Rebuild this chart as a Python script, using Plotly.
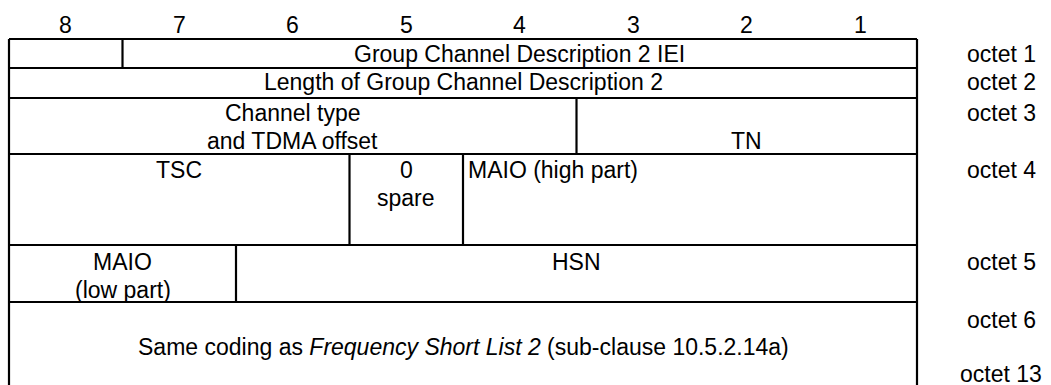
import plotly.graph_objects as go

# ---------------- data ----------------
bit_labels = ["8", "7", "6", "5", "4", "3", "2", "1"]

# octet label column, one list of lines per octet row
octet_labels = [
    ["octet 1"],
    ["octet 2"],
    ["octet 3"],
    ["octet 4"],
    ["octet 5"],
    ["octet 6", "", "octet 13"],
]

# fields: row index, high bit, low bit, text lines, horizontal alignment
field_rows = [0, 0, 1, 2, 2, 3, 3, 3, 4, 4, 5]
field_hi = [8, 7, 8, 8, 3, 8, 5, 4, 8, 6, 8]
field_lo = [8, 1, 1, 4, 1, 6, 5, 1, 7, 1, 1]
field_text = [
    [""],
    ["Group Channel Description 2 IEI"],
    ["Length of Group Channel Description 2"],
    ["Channel type", "and TDMA offset"],
    ["", "TN"],
    ["TSC"],
    ["0", "spare"],
    ["MAIO (high part)"],
    ["MAIO", "(low part)"],
    ["HSN"],
    ["", "Same coding as <i>Frequency Short List 2</i> (sub-clause 10.5.2.14a)"],
]
field_align = ["center", "center", "center", "center", "center", "center",
               "center", "left", "center", "center", "center"]

# ---------------- layout constants ----------------
W, H = 1051, 385
left_px = 9.0
col_px = 113.5
row_edges = [39, 68, 98, 154, 245, 302, 387]
row_pad = [14.5, 14.0, 15.0, 16.0, 16.5, 17.5]
row_gap = [28.0, 28.0, 28.0, 28.0, 28.0, 27.0]
header_y = 24.5
octet_x_px = 1001
FONT = dict(family="Liberation Sans, Arial, sans-serif", size=23, color="black")
LW = 2.2


def px_to_x(px):
    return (px - left_px) / col_px


fig = go.Figure()
fig.add_trace(go.Scatter(x=[0, 8], y=[row_edges[0], row_edges[-1]], mode="markers",
                         marker=dict(opacity=0), hoverinfo="skip", showlegend=False))

shapes = []
annotations = []


def hline(x0, x1, y):
    shapes.append(dict(type="line", xref="x", yref="y", x0=x0, x1=x1, y0=y, y1=y,
                       line=dict(color="black", width=LW)))


def vline(x, y0, y1):
    shapes.append(dict(type="line", xref="x", yref="y", x0=x, x1=x, y0=y0, y1=y1,
                       line=dict(color="black", width=LW)))


# outer box + row separators
for e in row_edges:
    hline(0, 8, e)
vline(0, row_edges[0], row_edges[-1])
vline(8, row_edges[0], row_edges[-1])

# header bit numbers
for i, b in enumerate(bit_labels):
    annotations.append(dict(x=i + 0.5, y=header_y, xref="x", yref="y", text=b,
                            showarrow=False, font=FONT, xanchor="center", yanchor="middle"))

# fields
for r, hi, lo, lines, al in zip(field_rows, field_hi, field_lo, field_text, field_align):
    x0 = 8 - hi
    x1 = 9 - lo
    top, bot = row_edges[r], row_edges[r + 1]
    if x0 > 0:
        vline(x0, top, bot)
    for k, ln in enumerate(lines):
        if not ln:
            continue
        y = top + row_pad[r] + k * row_gap[r]
        if al == "left":
            annotations.append(dict(x=x0 + 3.0 / col_px, y=y, xref="x", yref="y",
                                    text=ln, showarrow=False, font=FONT,
                                    xanchor="left", yanchor="middle"))
        else:
            annotations.append(dict(x=(x0 + x1) / 2, y=y, xref="x", yref="y",
                                    text=ln, showarrow=False, font=FONT,
                                    xanchor="center", yanchor="middle"))

# octet labels
for r, lines in enumerate(octet_labels):
    top = row_edges[r]
    for k, ln in enumerate(lines):
        if not ln:
            continue
        annotations.append(dict(x=px_to_x(octet_x_px), y=top + row_pad[r] + k * row_gap[r],
                                xref="x", yref="y", text=ln, showarrow=False, font=FONT,
                                xanchor="center", yanchor="middle"))

fig.update_layout(
    width=W, height=H,
    margin=dict(l=0, r=0, t=0, b=0),
    paper_bgcolor="white", plot_bgcolor="white",
    shapes=shapes, annotations=annotations,
    xaxis=dict(range=[px_to_x(0), px_to_x(W)], visible=False, fixedrange=True),
    yaxis=dict(range=[H, 0], visible=False, fixedrange=True),
    showlegend=False,
)
fig.write_html("out.html",
               config={"displayModeBar": False},
               post_script="document.body.style.margin='0';document.body.style.overflow='hidden';")
